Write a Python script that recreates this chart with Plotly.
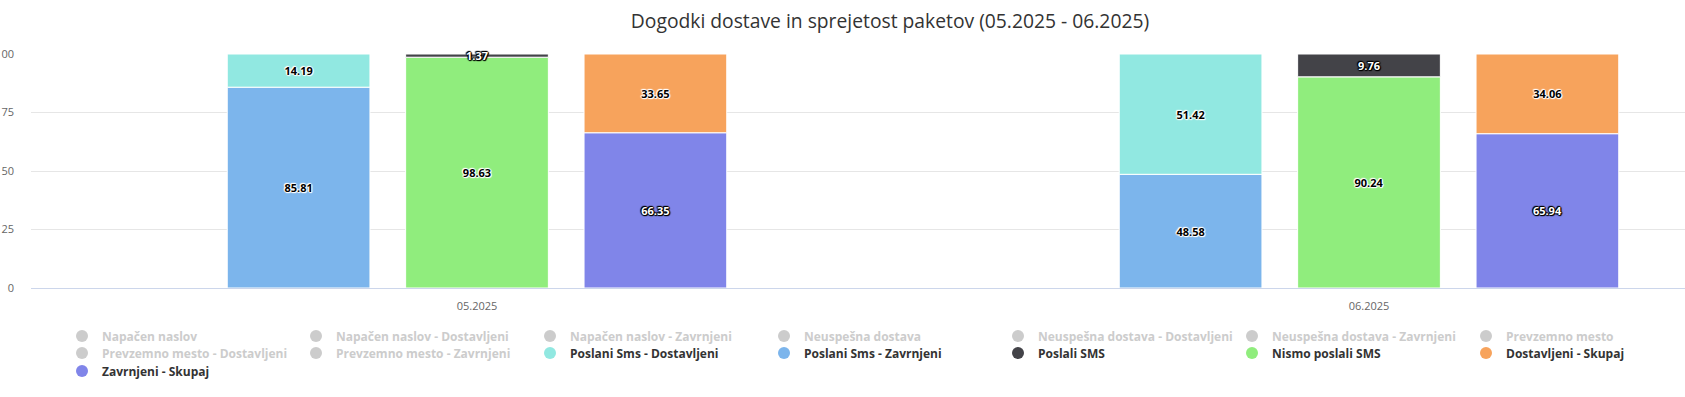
import plotly.graph_objects as go

# ---- data ----
categories = ["05.2025", "06.2025"]
poslani_sms_dostavljeni = [14.19, 51.42]
poslani_sms_zavrnjeni = [85.81, 48.58]
poslali_sms = [1.37, 9.76]
nismo_poslali_sms = [98.63, 90.24]
dostavljeni_skupaj = [33.65, 34.06]
zavrnjeni_skupaj = [66.35, 65.94]

hidden_series = [
    "Napačen naslov", "Napačen naslov - Dostavljeni", "Napačen naslov - Zavrnjeni",
    "Neuspešna dostava", "Neuspešna dostava - Dostavljeni", "Neuspešna dostava - Zavrnjeni",
    "Prevzemno mesto", "Prevzemno mesto - Dostavljeni", "Prevzemno mesto - Zavrnjeni",
]
y_ticks = [0, 25, 50, 75, 100]

# ---- styling ----
FONT = "Open Sans"
C = {
    "Poslani Sms - Dostavljeni": "#91e8e1",
    "Poslani Sms - Zavrnjeni": "#7cb5ec",
    "Poslali SMS": "#434348",
    "Nismo poslali SMS": "#90ed7d",
    "Dostavljeni - Skupaj": "#f7a35c",
    "Zavrnjeni - Skupaj": "#8085e9",
}
light_outline = "1px 0 1px #fff, -1px 0 1px #fff, 0 1px 1px #fff, 0 -1px 1px #fff, 1px 1px 1px #fff, -1px -1px 1px #fff"
dark_outline = "1px 0 1px #000, -1px 0 1px #000, 0 1px 1px #000, 0 -1px 1px #000, 1px 1px 1px #000, -1px -1px 1px #000"

stacks = [
    ("a", "Poslani Sms - Zavrnjeni", poslani_sms_zavrnjeni, "Poslani Sms - Dostavljeni", poslani_sms_dostavljeni),
    ("b", "Nismo poslali SMS", nismo_poslali_sms, "Poslali SMS", poslali_sms),
    ("c", "Zavrnjeni - Skupaj", zavrnjeni_skupaj, "Dostavljeni - Skupaj", dostavljeni_skupaj),
]
dark_labels = {"Poslali SMS", "Zavrnjeni - Skupaj"}

fig = go.Figure()


def add_bar(name, values, base, group):
    dark = name in dark_labels
    fig.add_trace(go.Bar(
        x=categories, y=values, base=base, name=name, offsetgroup=group,
        marker=dict(color=C[name], line=dict(color="#ffffff", width=1)),
        text=[f"{v:.2f}" for v in values],
        textposition="inside", insidetextanchor="middle", constraintext="none",
        textangle=0, cliponaxis=False,
        textfont=dict(family=FONT, size=11, weight="bold",
                      color="#ffffff" if dark else "#000000",
                      shadow=dark_outline if dark else light_outline),
        showlegend=False, hoverinfo="skip",
    ))


for group, bname, bvals, tname, tvals in stacks:
    add_bar(bname, bvals, None, group)
    add_bar(tname, tvals, bvals, group)

legend_order = hidden_series + [
    "Poslani Sms - Dostavljeni", "Poslani Sms - Zavrnjeni", "Poslali SMS",
    "Nismo poslali SMS", "Dostavljeni - Skupaj", "Zavrnjeni - Skupaj",
]
legend_ids = ["legend", "legend2", "legend3"]
for i, name in enumerate(legend_order):
    if name in hidden_series:
        label = f"<span style='color:#cccccc'>{name}</span>"
        col = "#cccccc"
    else:
        label = name
        col = C[name]
    fig.add_trace(go.Scatter(
        x=[None], y=[None], mode="markers", name=label,
        marker=dict(symbol="circle", size=12, color=col),
        showlegend=True, hoverinfo="skip", legend=legend_ids[i // 7],
    ))

W, H = 1685, 397
L, R, T, B = 31, 0, 54, 109
plot_w = W - L - R
plot_h = H - T - B
cat_px = 892.0

legend_common = dict(
    orientation="h", xanchor="left", yanchor="middle",
    entrywidth=189, entrywidthmode="pixels",
    font=dict(family=FONT, size=12, color="#333333", weight="bold"),
    itemclick=False, itemdoubleclick=False,
    traceorder="normal", bgcolor="rgba(0,0,0,0)",
)
leg_x = (62 - L) / plot_w
row_y = [336, 353, 371]


def ly(px):
    return (H - B - px) / plot_h


fig.update_layout(
    width=W, height=H, autosize=False,
    margin=dict(l=L, r=R, t=T, b=B, pad=0, autoexpand=False),
    paper_bgcolor="#ffffff", plot_bgcolor="#ffffff",
    barmode="group", bargap=0.4, bargroupgap=0.2,
    font=dict(family=FONT, color="#333333"),
    title=dict(text="Dogodki dostave in sprejetost paketov (05.2025 - 06.2025)",
               x=890 / W, xref="container", xanchor="center",
               y=1 - 21.5 / H, yref="container", yanchor="middle",
               font=dict(family=FONT, size=19.3, color="#333333")),
    xaxis=dict(type="category", range=[-0.5, -0.5 + plot_w / cat_px],
               showgrid=False, zeroline=False, showline=True, automargin=False,
               linecolor="#ccd6eb", linewidth=1, ticks="",
               tickfont=dict(family=FONT, size=11, color="#666666"),
               ticklabelstandoff=8, fixedrange=True),
    yaxis=dict(range=[0, 100], tickvals=y_ticks, showgrid=True, automargin=False,
               gridcolor="#e6e6e6", gridwidth=1, zeroline=False,
               showline=False, ticks="",
               tickfont=dict(family=FONT, size=11, color="#666666"),
               ticklabelstandoff=16, fixedrange=True),
    legend=dict(x=leg_x, y=ly(row_y[0]), **legend_common),
    legend2=dict(x=leg_x, y=ly(row_y[1]), **legend_common),
    legend3=dict(x=leg_x, y=ly(row_y[2]), **legend_common),
)

fig.write_html("out.html", config={"displayModeBar": False},
               post_script="document.body.style.margin='0px';")
